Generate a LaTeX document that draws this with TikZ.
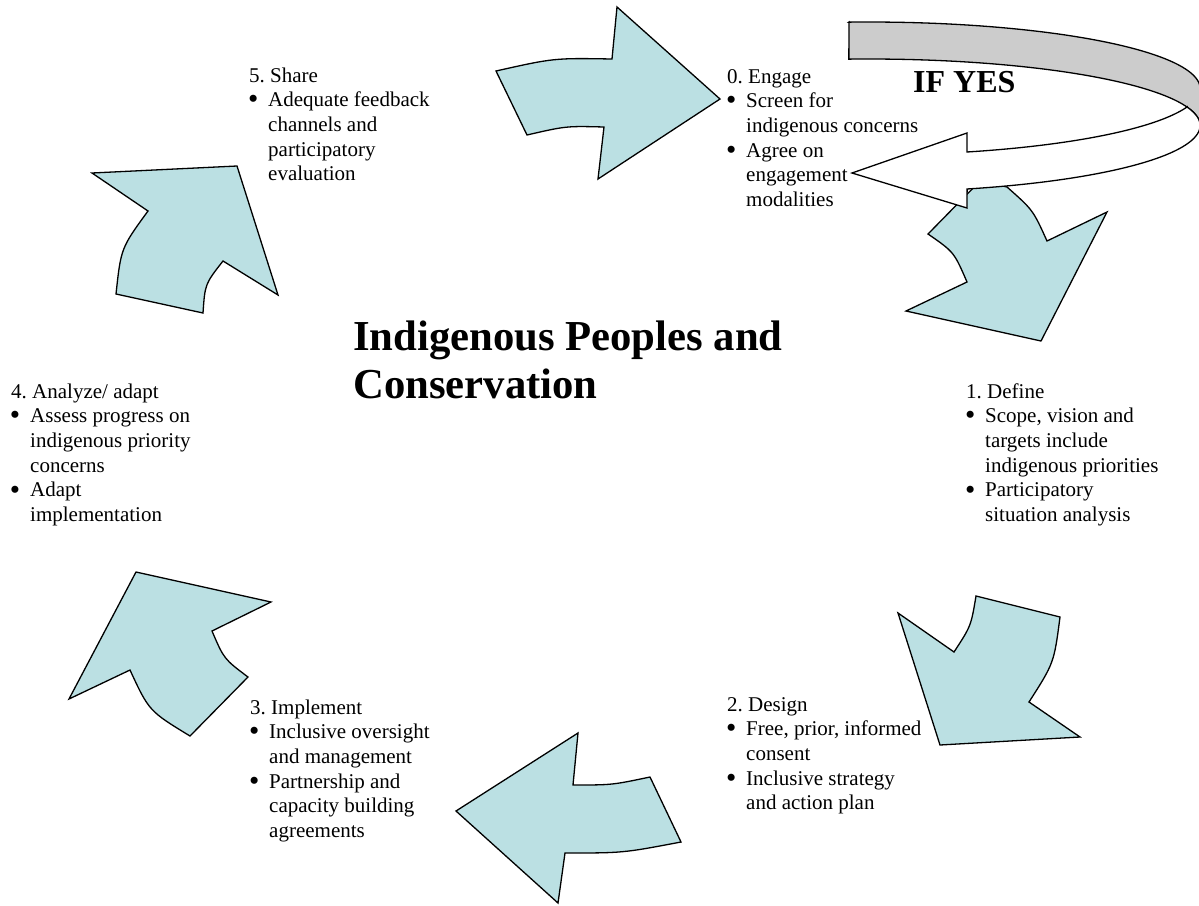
\documentclass[tikz,border=0pt]{standalone}
\usepackage{fontspec}
\usepackage{graphicx}
\setmainfont{Liberation Serif}
\frenchspacing
\definecolor{arrowblue}{RGB}{187,224,227}
\definecolor{backgray}{RGB}{204,204,204}
\newcommand\blkhead[1]{\hbox{#1}}
\newcommand\blkbullet{\makebox[19pt][l]{\hspace{-1.2pt}\raisebox{-2.2pt}{\scalebox{1.4}{\textbullet}}}}
\newcommand\blkitem[1]{\hbox{\blkbullet#1}}
\newcommand\blkcont[1]{\hbox{\hspace{19pt}#1}}
\tikzset{
  bluearrow/.style={fill=arrowblue, draw=black, line width=1.3pt, line join=miter},
  txt/.style={anchor=base west, inner sep=0pt, font=\fontsize{21}{24.7}\selectfont},
  titletxt/.style={anchor=base west, inner sep=0pt, font=\bfseries\fontsize{42.7}{48}\selectfont},
  yestxt/.style={anchor=base west, inner sep=0pt, font=\bfseries\fontsize{32}{36}\selectfont},
  ifyesback/.style={fill=backgray, draw=black, line width=1.3pt},
  ifyesfront/.style={fill=white, draw=black, line width=1.3pt, line join=miter},
}
\begin{document}
\begin{tikzpicture}[x=1pt, y=-1pt]
\useasboundingbox (0,0) rectangle (1199,905);
\fill[white] (0,0) rectangle (1199,905);

% arrow 0 (top, pointing right)
\path[bluearrow] (496,71) .. controls (554,58) .. (612,59) -- (617,7) -- (720,99) -- (598,179)
  -- (604,127) .. controls (566,126) .. (527,135) -- cycle;

% arrow 1 (right, pointing down)
\path[bluearrow] (980,181) -- (1007,187) .. controls (1033,210) .. (1047,241) -- (1107,212)
  -- (1041,341) -- (906,311) -- (967,282) .. controls (954,252) .. (928,234) -- cycle;

% arrow 2 (lower right)
\path[bluearrow] (898,613) -- (954,652) .. controls (971,626) .. (976,596) -- (1060,617)
  .. controls (1054,663) .. (1029,702) -- (1080,737) -- (940,745) -- cycle;

% arrow 3 (bottom, pointing left)
\path[bluearrow] (578,733) -- (573,785) .. controls (612,785) .. (650,777) -- (681,842)
  .. controls (623,853) .. (565,853) -- (558,903) -- (456,811) -- cycle;

% arrow 4 (lower left, pointing up)
\path[bluearrow] (136,572) -- (271,602) -- (212,631) .. controls (224,659) .. (248,677)
  -- (190,736) .. controls (149,711) .. (130,670) -- (69,699) -- cycle;

% arrow 5 (upper left, pointing up-right)
\path[bluearrow] (92,173) -- (237,166) -- (278,295) -- (223,261) .. controls (205,284) .. (203,313)
  -- (116,294) .. controls (121,248) .. (148,211) -- cycle;

% IF YES curved arrow
\path[ifyesback] (849,22) -- plot[domain=-93.4:0, samples=50, variable=\t]
    ({868.5+331.6*cos(\t)},{88.5+66.5*sin(\t)})
  -- plot[domain=0:-93.4, samples=50, variable=\t]
    ({868.5+331.6*cos(\t)},{125.5+66.5*sin(\t)}) -- cycle;
\path[ifyesfront] (967,152) -- plot[domain=72.7:16.1, samples=40, variable=\t]
    ({868.5+331.6*cos(\t)},{88.5+66.5*sin(\t)})
  -- plot[domain=-16.1:0, samples=15, variable=\t]
    ({868.5+331.6*cos(\t)},{125.5+66.5*sin(\t)})
  -- plot[domain=0:72.7, samples=40, variable=\t]
    ({868.5+331.6*cos(\t)},{125.5+66.5*sin(\t)})
  -- (967,208) -- (852,173) -- (967,133) -- cycle;

\node[yestxt] (ifyes) at (913,92) {IF YES};

\node[titletxt] (title) at (353,350) {\vtop{\hbox{Indigenous Peoples and}\hbox{Conservation}}};

\node[txt] (t0) at (727,83) {\vtop{\blkhead{0. Engage}\blkitem{Screen for}\blkcont{indigenous concerns}\blkitem{Agree on}\blkcont{engagement}\blkcont{modalities}}};

\node[txt] (t1) at (966,398) {\vtop{\blkhead{1. Define}\blkitem{Scope, vision and}\blkcont{targets include}\blkcont{indigenous priorities}\blkitem{Participatory}\blkcont{situation analysis}}};

\node[txt] (t2) at (727,711) {\vtop{\blkhead{2. Design}\blkitem{Free, prior, informed}\blkcont{consent}\blkitem{Inclusive strategy}\blkcont{and action plan}}};

\node[txt] (t3) at (250,714) {\vtop{\blkhead{3. Implement}\blkitem{Inclusive oversight}\blkcont{and management}\blkitem{Partnership and}\blkcont{capacity building}\blkcont{agreements}}};

\node[txt] (t4) at (11,398) {\vtop{\blkhead{4. Analyze/ adapt}\blkitem{Assess progress on}\blkcont{indigenous priority}\blkcont{concerns}\blkitem{Adapt}\blkcont{implementation}}};

\node[txt] (t5) at (249,82) {\vtop{\blkhead{5. Share}\blkitem{Adequate feedback}\blkcont{channels and}\blkcont{participatory}\blkcont{evaluation}}};
\end{tikzpicture}
\end{document}
